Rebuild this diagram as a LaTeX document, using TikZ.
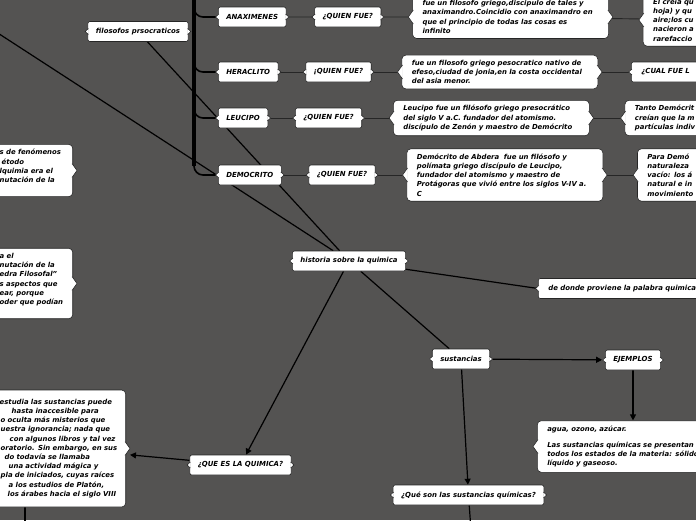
\documentclass[tikz,border=0pt]{standalone}
\usepackage{fontspec}
\setmainfont{DejaVu Sans}
\usetikzlibrary{arrows.meta, positioning, backgrounds}
\definecolor{bggray}{RGB}{84,83,82}
\definecolor{edgegray}{RGB}{38,38,38}
\newcommand{\mmtag}{\fontsize{6.95}{8.6}\selectfont\bfseries\itshape}
\newcommand{\mmnote}{\fontsize{6.9}{9.2}\selectfont\bfseries\itshape}
\tikzset{
    tagbox/.style={rectangle, rounded corners=2pt, fill=white, draw=edgegray, line width=0.6pt, minimum height=20pt, inner xsep=8pt, inner ysep=2pt, font=\mmtag},
    notebox/.style={rectangle, rounded corners=4pt, fill=white, draw=edgegray, line width=0.6pt, text width=176pt, inner xsep=10pt, inner ysep=5pt, align=left, font=\mmnote},
    sidebox/.style={notebox, anchor=west, text width=110pt},
    bracetip/.style={fill=white, draw=edgegray, line width=0.6pt, line join=round},
    link/.style={line width=1.2pt, black},
    arrow/.style={-{Triangle[length=6pt, width=6pt]}, line width=1.2pt, black},
    rowlink/.style={line width=0.9pt, edgegray},
    trunk/.style={line width=4pt, black},
    branch/.style={line width=1.6pt, black, rounded corners=9pt},
}

\begin{document}
\begin{tikzpicture}[x=1pt, y=-1pt, node distance=27pt]

\path[use as bounding box] (0,0) rectangle (696,520);
\begin{scope}[on background layer]
\fill[bggray] (0,0) rectangle (696,520);
\end{scope}

% filosofos
\node[tagbox] (filo) at (138,31.5) {filosofos prsocraticos};
\coordinate (ptop) at (194,-6);

\node[tagbox, anchor=west] (anax) at (218,17) {ANAXIMENES};
\node[tagbox, right=28pt of anax] (anaxq) {¿QUIEN FUE?};
\node[notebox, right=31pt of anaxq] (anaxtxt) {fue un filosofo griego,discipulo de tales y\\anaximandro.Coincidio con anaximandro en\\que el principio de todas las cosas es\\infinito};
\node[sidebox, right=34pt of anaxtxt, yshift=-3pt] (anaxmas) {El creía qu\\hoja) y qu\\aire;los cu\\nacieron a\\rarefaccio};

\node[tagbox, anchor=west] (hera) at (218,72) {HERACLITO};
\node[tagbox, right=of hera] (heraq) {¡QUIEN FUE?};
\node[notebox, right=30pt of heraq] (heratxt) {fue un filosofo griego pesocratico nativo de\\efeso,ciudad de jonia,en la costa occidental\\del asia menor.};
\node[tagbox, text width=62pt, align=left, inner xsep=10pt, right=33pt of heratxt] (heramas) {¿CUAL FUE L};

\node[tagbox, anchor=west] (leu) at (218,118) {LEUCIPO};
\node[tagbox, right=of leu] (leuq) {¿QUIEN FUE?};
\node[notebox, right=31pt of leuq] (leutxt) {Leucipo fue un filósofo griego presocrático\\del siglo V a.C. fundador del atomismo.\\discípulo de Zenón y maestro de Demócrito};
\node[sidebox, right=35pt of leutxt] (leumas) {Tanto Demócrit\\creían que la m\\partículas indiv};

\node[tagbox, anchor=west] (demo) at (218,175) {DEMOCRITO};
\node[tagbox, right=of demo] (demoq) {¿QUIEN FUE?};
\node[notebox, right=31pt of demoq] (demotxt) {Demócrito de Abdera\ \ fue un filósofo y\\polímata griego discípulo de Leucipo,\\fundador del atomismo y maestro de\\Protágoras que vivió entre los siglos V-IV a.\\C};
\node[sidebox, right=34pt of demotxt] (demomas) {Para Demó\\naturaleza\\vacío: los á\\natural e in\\movimiento};

% alquimia (cortado a la izquierda)
\node[notebox, text width=64pt, inner xsep=9pt, anchor=east] (alqa) at (73,170.5) {s de fenómenos\\\hspace*{2pt}étodo\\lquimia era el\\nutación de la\\\mbox{}};
\node[notebox, text width=64pt, inner xsep=9pt, anchor=east] (alqb) at (73,283.5) {a el\\nutación de la\\edra Filosofal”\\s aspectos que\\ear, porque\\oder que podían\\\mbox{}};

% centro
\node[tagbox] (hist) at (349,261) {historia sobre la quimica};
\node[tagbox, anchor=west, text width=170pt, align=left, inner xsep=10pt] (origen) at (538,288.5) {de donde proviene la palabra quimica};
\coordinate (offleft) at (-40,8.5);

\node[tagbox] (sust) at (461,359) {sustancias};
\node[tagbox] (ejem) at (633,360) {EJEMPLOS};
\node[sidebox, text width=170pt] (agua) at (537,446.5) {agua, ozono, azúcar.\\[7pt]Las sustancias químicas se presentan\\todos los estados de la materia: sólido\\líquido y gaseoso.};
\node[tagbox] (quesust) at (468.5,495) {¿Qué son las sustancias químicas?};
\coordinate (down2) at (471,530);

\node[tagbox] (queq) at (240.5,465) {¿QUE ES LA QUIMICA?};
\node[notebox, text width=122pt, inner xsep=4pt, inner ysep=7pt, minimum height=117pt, anchor=east] (quimdef) at (126,448.5) {estudia las sustancias puede\\
\hspace*{12pt}hasta inaccesible para\\
\hspace*{-4pt}no oculta más misterios que\\
\hspace*{1pt}uestra ignorancia; nada que\\
\hspace*{10pt}con algunos libros y tal vez\\
\hspace*{1pt}oratorio. Sin embargo, en sus\\
\hspace*{5pt}do todavía se llamaba\\
\hspace*{9pt}una actividad mágica y\\
\hspace*{1pt}pla de iniciados, cuyas raíces\\
\hspace*{9pt}a los estudios de Platón,\\
\hspace*{8pt}los árabes hacia el siglo VIII};
\coordinate (down1) at (25,530);

% puntas de llave
\foreach \n in {filo, anax, anaxq, hera, heraq, heramas, leu, leuq, demo, demoq, hist, origen, sust, ejem, queq, quesust} {
    \filldraw[bracetip] ([shift={(0.8,3)}]\n.west) -- ([xshift=-2.5pt]\n.west) -- ([shift={(0.8,-3)}]\n.west);
    \filldraw[bracetip] ([shift={(-0.8,3)}]\n.east) -- ([xshift=2.5pt]\n.east) -- ([shift={(-0.8,-3)}]\n.east);
}
\foreach \n in {anaxtxt, anaxmas, heratxt, leutxt, leumas, demotxt, demomas, alqa, alqb, agua, quimdef} {
    \filldraw[bracetip] ([shift={(1,7)}]\n.west) -- ([xshift=-4pt]\n.west) -- ([shift={(1,-7)}]\n.west);
    \filldraw[bracetip] ([shift={(-1,7)}]\n.east) -- ([xshift=4pt]\n.east) -- ([shift={(-1,-7)}]\n.east);
}

\begin{scope}[on background layer]
\draw[trunk] (ptop) -- ([yshift=9pt]ptop |- demo.west);
\foreach \n in {anax, hera, leu, demo}
    \draw[branch] (ptop) |- (\n.west);
\draw[rowlink] (anax) -- (anaxq) -- (anaxtxt) -- (anaxmas);
\draw[rowlink] (hera) -- (heraq) -- (heratxt) -- (heramas);
\draw[rowlink] (leu) -- (leuq) -- (leutxt) -- (leumas);
\draw[rowlink] (demo) -- (demoq) -- (demotxt) -- (demomas);
\draw[link] (filo) -- (hist);
\draw[link] (offleft) -- (hist);
\draw[link] (hist) -- (origen.west);
\draw[link] (hist) -- (sust);
\draw[arrow] (hist) -- (queq);
\draw[arrow, shorten >=4pt] (queq) -- (quimdef);
\draw[arrow, shorten >=3pt] (sust) -- (ejem);
\draw[arrow] (ejem) -- (ejem |- agua.north);
\draw[arrow] (sust) -- (quesust);
\draw[link] (down1 |- quimdef.south) -- (down1);
\draw[link] (quesust) -- (down2);
\end{scope}

\end{tikzpicture}
\end{document}
